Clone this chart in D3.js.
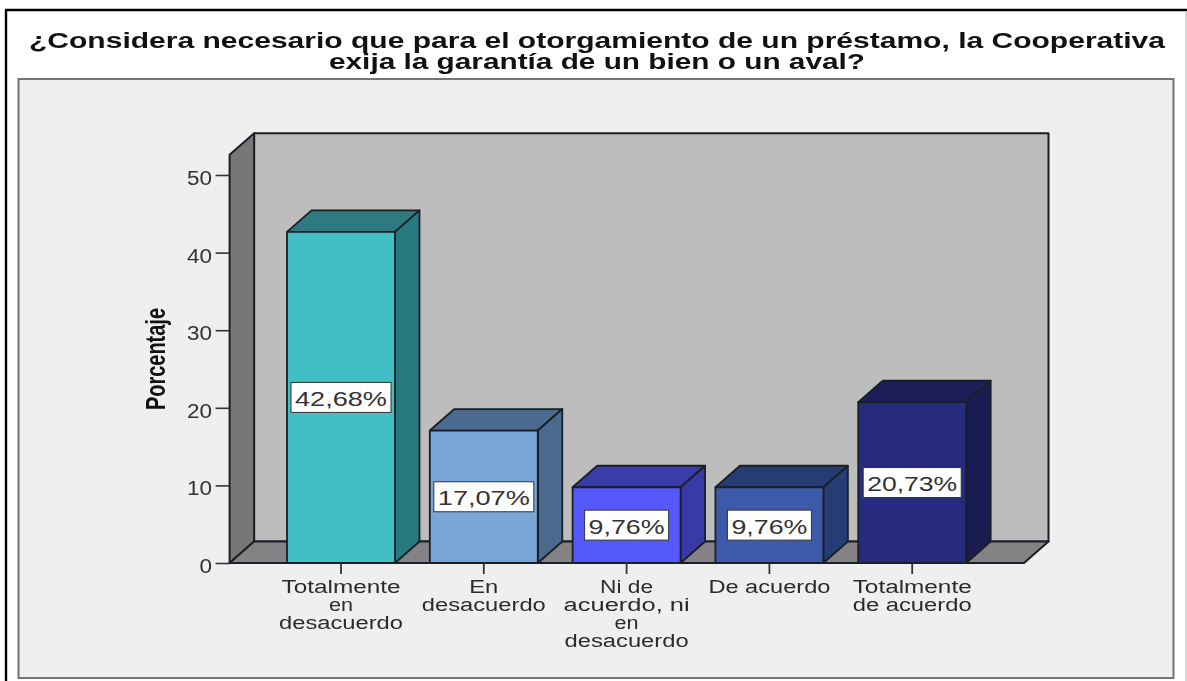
<!DOCTYPE html>
<html>
<head>
<meta charset="utf-8">
<script src="https://cdn.jsdelivr.net/npm/d3@7"></script>
<style>
html,body{margin:0;padding:0;background:#fff;overflow:hidden}
svg{display:block;font-family:"Liberation Sans",Arial,sans-serif;filter:blur(0.45px)}
</style>
</head>
<body>
<svg id="chart" width="1187" height="681"></svg>
<script>
const titleLines = ["¿Considera necesario que para el otorgamiento de un préstamo, la Cooperativa","exija la garantía de un bien o un aval?"];
const categories = ["Totalmente en desacuerdo","En desacuerdo","Ni de acuerdo, ni en desacuerdo","De acuerdo","Totalmente de acuerdo"];
const categoryLines = [["Totalmente","en","desacuerdo"],["En","desacuerdo"],["Ni de","acuerdo, ni","en","desacuerdo"],["De acuerdo"],["Totalmente","de acuerdo"]];
const percentages = [42.68,17.07,9.76,9.76,20.73];
const valueLabels = ["42,68%","17,07%","9,76%","9,76%","20,73%"];
const frontColors = ["#41bfc4","#78a6d6","#5558fa","#3c59aa","#272b7d"];
const topColors = ["#2e7a80","#4a6a8e","#3a3cab","#253c75","#1b1e57"];
const sideColors = ["#277a7e","#4a6a8e","#383aa6","#253c75","#1a1d52"];
const yTicks = [0,10,20,30,40,50];
const yAxisTitle = "Porcentaje";

const svg = d3.select("#chart");
const dx = 24.5, dy = 21.5;
const x0 = 229.6, x1 = 1024, yBase = 563;
const y = d3.scaleLinear().domain([0,50]).range([yBase,175]);
const yTop = y(52.6);
const x = d3.scaleBand().domain(categories).range([269.6,983.6]).paddingInner(0.244).paddingOuter(0.122);
const ink = "#1a1f26";

// frame
svg.append("line").attr("x1",6).attr("x2",6).attr("y1",10).attr("y2",681).attr("stroke","#000").attr("stroke-width",2.4);
svg.append("line").attr("x1",5).attr("x2",1187).attr("y1",10).attr("y2",10).attr("stroke","#000").attr("stroke-width",2.4);
svg.append("line").attr("x1",1186).attr("x2",1186).attr("y1",11).attr("y2",681).attr("stroke","#c8c8c8").attr("stroke-width",1.4);
svg.append("rect").attr("x",18.5).attr("y",79).attr("width",1155).attr("height",599).attr("fill","#efefef").attr("stroke","#747474").attr("stroke-width",2);

// title
const titleWidths = [1136,536];
svg.append("g").selectAll("text").data(titleLines).join("text")
  .attr("x",597).attr("y",(d,i)=>48+i*21).attr("text-anchor","middle")
  .attr("font-size",21.5).attr("font-weight","bold").attr("fill","#111")
  .attr("textLength",(d,i)=>titleWidths[i]).attr("lengthAdjust","spacingAndGlyphs")
  .text(d=>d);

// 3D box
const poly = pts => pts.map(p=>p.join(",")).join(" ");
const walls = svg.append("g").attr("stroke",ink).attr("stroke-width",2).attr("stroke-linejoin","round");
walls.append("polygon").attr("fill","#bdbdbd").attr("points",poly([[x0+dx,yTop-dy],[x1+dx,yTop-dy],[x1+dx,yBase-dy],[x0+dx,yBase-dy]]));
walls.append("polygon").attr("fill","#777777").attr("points",poly([[x0,yTop],[x0+dx,yTop-dy],[x0+dx,yBase-dy],[x0,yBase]]));
walls.append("polygon").attr("fill","#848284").attr("points",poly([[x0,yBase],[x0+dx,yBase-dy],[x1+dx,yBase-dy],[x1,yBase]]));

// y axis
const yAxis = svg.append("g").attr("transform",`translate(${x0},0)`)
  .call(d3.axisLeft(y).tickValues(yTicks).tickSize(14).tickPadding(3.5));
yAxis.select(".domain").remove();
yAxis.selectAll(".tick line").attr("stroke","#333").attr("stroke-width",1.6);
yAxis.selectAll(".tick text").attr("font-family",'"Liberation Sans",Arial,sans-serif').attr("font-size",19.5).attr("fill","#333")
  .attr("textLength",d=>d===0?12.5:25).attr("lengthAdjust","spacingAndGlyphs").attr("dy",null).attr("y",9.5);

// bars
const bars = svg.append("g").selectAll("g").data(categories).join("g")
  .attr("stroke",ink).attr("stroke-width",1.8).attr("stroke-linejoin","round");
bars.each(function(c,i){
  const g = d3.select(this), l = x(c), r = l+x.bandwidth(), t = y(percentages[i]);
  g.append("polygon").attr("fill",topColors[i]).attr("points",poly([[l,t],[l+dx,t-dy],[r+dx,t-dy],[r,t]]));
  g.append("polygon").attr("fill",sideColors[i]).attr("points",poly([[r,t],[r+dx,t-dy],[r+dx,yBase-dy],[r,yBase]]));
  g.append("rect").attr("fill",frontColors[i]).attr("x",l).attr("y",t).attr("width",x.bandwidth()).attr("height",yBase-t);
});

// baseline redraw and x axis ticks
svg.append("line").attr("x1",x0).attr("x2",x1).attr("y1",yBase).attr("y2",yBase).attr("stroke",ink).attr("stroke-width",2);
const xAxis = svg.append("g").attr("transform",`translate(0,${yBase})`)
  .call(d3.axisBottom(x).tickSize(11).tickFormat(""));
xAxis.select(".domain").remove();
xAxis.selectAll(".tick line").attr("stroke","#333").attr("stroke-width",1.8);

// category labels
const lineWidth = {"Totalmente":119,"en":24,"desacuerdo":124,"En":29,"Ni de":53,"acuerdo, ni":126,"De acuerdo":122,"de acuerdo":119};
xAxis.selectAll(".tick").each(function(c,i){
  d3.select(this).selectAll("text").remove();
  d3.select(this).selectAll("text.cat").data(categoryLines[i]).join("text").attr("class","cat")
    .attr("x",0).attr("y",(d,j)=>29.5+j*18.2).attr("text-anchor","middle")
    .attr("font-family",'"Liberation Sans",Arial,sans-serif').attr("font-size",18).attr("fill","#2b2b2b")
    .attr("textLength",d=>lineWidth[d]).attr("lengthAdjust","spacingAndGlyphs").text(d=>d);
});

// value labels
const boxW = [100,100,84,84,98];
const boxes = svg.append("g").selectAll("g").data(categories).join("g")
  .attr("transform",(c,i)=>`translate(${x(c)+x.bandwidth()/2},${(y(percentages[i])+yBase)/2})`);
boxes.append("rect").attr("x",(c,i)=>-boxW[i]/2).attr("y",-15).attr("width",(c,i)=>boxW[i]).attr("height",30)
  .attr("fill","#fff").attr("stroke","#333").attr("stroke-width",1);
boxes.append("text").attr("text-anchor","middle").attr("y",8.5).attr("font-size",21).attr("fill","#333")
  .attr("textLength",(c,i)=>boxW[i]-8).attr("lengthAdjust","spacingAndGlyphs").text((c,i)=>valueLabels[i]);

// y axis title
svg.append("text").attr("transform","translate(165,410) rotate(-90)")
  .attr("font-size",27).attr("font-weight","bold").attr("fill","#111")
  .attr("textLength",102).attr("lengthAdjust","spacingAndGlyphs").text(yAxisTitle);
</script>
</body>
</html>
